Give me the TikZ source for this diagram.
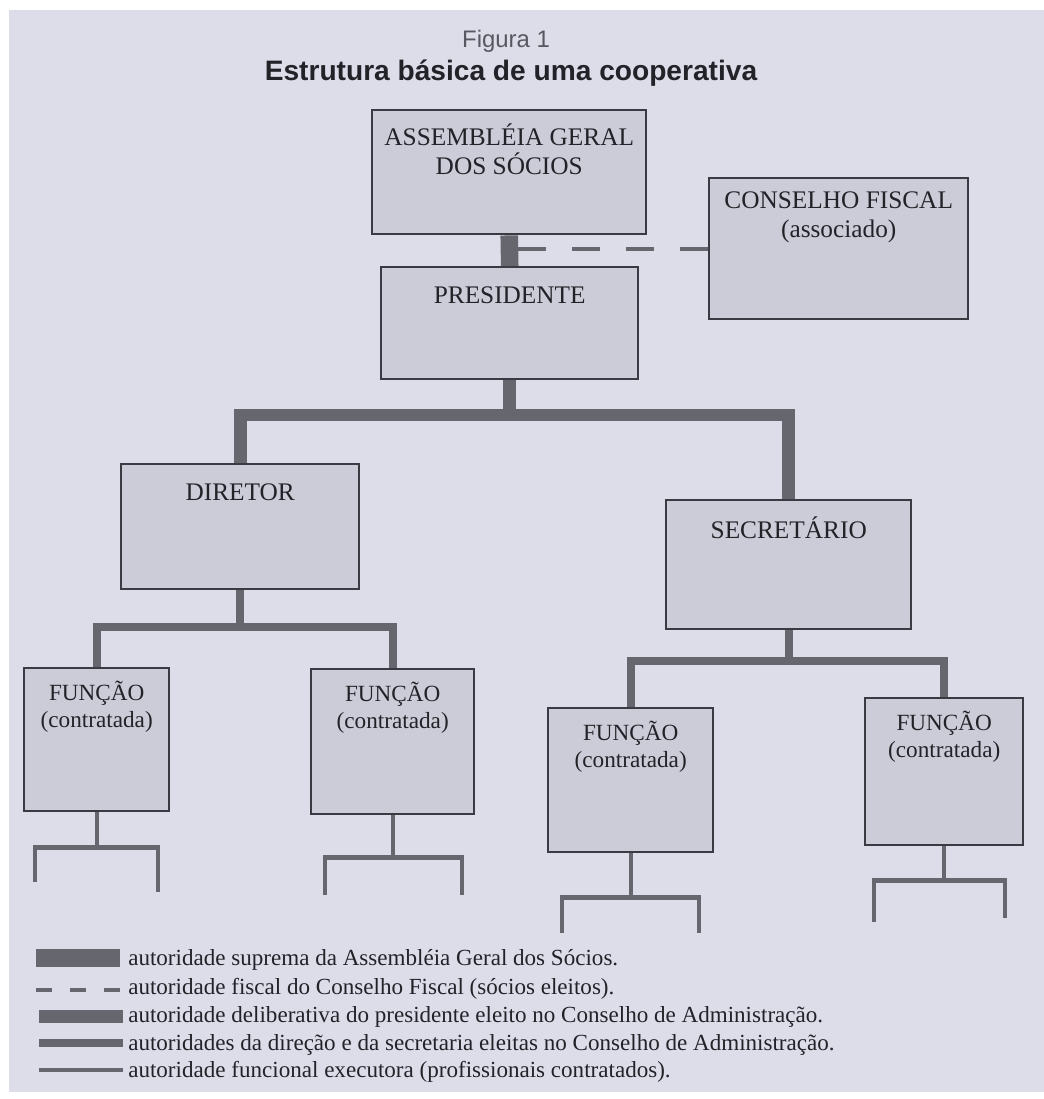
\documentclass[tikz,border=0pt]{standalone}
\usepackage{fontspec}
\setmainfont{Liberation Serif}
\newfontfamily\headfont{Liberation Sans}
\usetikzlibrary{positioning}
\definecolor{page_bg}{RGB}{221,221,234}
\definecolor{box_fill}{RGB}{204,204,216}
\definecolor{box_line}{RGB}{58,58,66}
\definecolor{link_grey}{RGB}{102,102,110}
\definecolor{ink}{RGB}{34,34,40}
\definecolor{fig_grey}{RGB}{88,88,96}

\tikzset{
  orgbox/.style={draw=box_line, fill=box_fill, line width=1.7pt, rectangle, anchor=north west, inner sep=0pt},
  boxlabel/.style={anchor=north, align=center, text=ink, inner sep=0pt, font=\fontsize{18}{20.5}\selectfont, execute at begin node={\rule{0pt}{0.9em}}},
  funclabel/.style={boxlabel, font=\fontsize{16.5}{19}\selectfont},
  suprema/.style={draw=link_grey, line width=12.5pt},
  fiscal/.style={draw=link_grey, line width=2.8pt, dash pattern=on 0.7cm off 0.65cm},
  deliberativa/.style={draw=link_grey, line width=9pt},
  direcao/.style={draw=link_grey, line width=5.5pt},
  funcional/.style={draw=link_grey, line width=3pt},
  legendtext/.style={anchor=base west, text=ink, inner sep=0pt, font=\fontsize{16.4}{19}\selectfont}
}

\begin{document}
\begin{tikzpicture}[x=0.025cm, y=-0.025cm]

    % page
    \useasboundingbox (0,0) rectangle (1044,1099);
    \fill[white] (0,0) rectangle (1044,1099);
    \fill[page_bg] (9,10) rectangle (1044,1092);

    % --- Begin Heading ---
    \node[anchor=base, text=fig_grey, font=\headfont\fontsize{17}{20}\selectfont] (figura_label) at (506,47) {Figura 1};
    \node[anchor=base, text=ink, font=\headfont\bfseries\fontsize{20}{24}\selectfont] (figura_title) at (511,80) {Estrutura básica de uma cooperativa};
		% --- End Heading ---

    % --- Begin Top Nodes ---
		\node[orgbox, minimum width=6.85cm, minimum height=3.1cm] (Assembleia) at (371,109) {};
		\node[boxlabel, below=0.36cm of Assembleia.north] (assembleia_title) {ASSEMBLÉIA GERAL\\DOS SÓCIOS};

		\node[orgbox, minimum width=6.475cm, minimum height=3.525cm] (Conselho) at (708,177) {};
		\node[boxlabel, below=0.36cm of Conselho.north] (conselho_title) {CONSELHO FISCAL\\(associado)};

		\node[orgbox, minimum width=6.425cm, minimum height=2.8cm] (Presidente) at (380,266) {};
		\node[boxlabel, below=0.36cm of Presidente.north] (presidente_title) {PRESIDENTE};
		% --- End Top Nodes ---

    % --- Begin Board Nodes ---
		\node[orgbox, minimum width=5.95cm, minimum height=3.125cm] (Diretor) at (120,463) {};
		\node[boxlabel, below=0.36cm of Diretor.north] (diretor_title) {DIRETOR};

		\node[orgbox, minimum width=6.125cm, minimum height=3.225cm] (Secretario) at (665,499) {};
		\node[boxlabel, below=0.4cm of Secretario.north] (secretario_title) {SECRETÁRIO};
		% --- End Board Nodes ---

    % --- Begin Funcao Nodes ---
		\node[orgbox, minimum width=3.625cm, minimum height=3.575cm] (FuncaoA) at (23,667) {};
		\node[funclabel, below=0.34cm of FuncaoA.north] (funcao_a_title) {FUNÇÃO\\(contratada)};

		\node[orgbox, minimum width=4.075cm, minimum height=3.625cm] (FuncaoB) at (310,668) {};
		\node[funclabel, below=0.34cm of FuncaoB.north] (funcao_b_title) {FUNÇÃO\\(contratada)};

		\node[orgbox, minimum width=4.125cm, minimum height=3.6cm] (FuncaoC) at (547,707) {};
		\node[funclabel, below=0.34cm of FuncaoC.north] (funcao_c_title) {FUNÇÃO\\(contratada)};

		\node[orgbox, minimum width=3.95cm, minimum height=3.675cm] (FuncaoD) at (864,697) {};
		\node[funclabel, below=0.34cm of FuncaoD.north] (funcao_d_title) {FUNÇÃO\\(contratada)};
		% --- End Funcao Nodes ---

    % Connect the nodes.
    \draw[fiscal] (Conselho.west) -- (Assembleia.south |- Conselho.west);
    \draw[suprema] (Assembleia.south) -- (Presidente.north);
    \draw[deliberativa] (Diretor.north) -- ++(0,-48) -| (Presidente.south);
    \draw[deliberativa] (Secretario.north) -- ++(0,-84) -| (Presidente.south);
    \draw[direcao] (FuncaoA.north) -- ++(0,-40) -| (Diretor.south);
    \draw[direcao] (FuncaoB.north) -- ++(0,-41) -| (Diretor.south);
    \draw[direcao] (FuncaoC.north) -- ++(0,-46) -| (Secretario.south);
    \draw[direcao] (FuncaoD.north) -- ++(0,-36) -| (Secretario.south);

    % Open branches below each function.
    \coordinate (funcao_a_left) at (35,882);
    \coordinate (funcao_a_right) at (158,892);
    \coordinate (funcao_b_left) at (325,895);
    \coordinate (funcao_b_right) at (462,895);
    \coordinate (funcao_c_left) at (562,933);
    \coordinate (funcao_c_right) at (699,933);
    \coordinate (funcao_d_left) at (874,922);
    \coordinate (funcao_d_right) at (1005,918);
    \draw[funcional] (FuncaoA.south) -- ++(0,35) coordinate (funcao_a_fork);
    \draw[funcional] (funcao_a_left) |- (funcao_a_fork) -| (funcao_a_right);
    \draw[funcional] (FuncaoB.south) -- ++(0,42) coordinate (funcao_b_fork);
    \draw[funcional] (funcao_b_left) |- (funcao_b_fork) -| (funcao_b_right);
    \draw[funcional] (FuncaoC.south) -- ++(0,44) coordinate (funcao_c_fork);
    \draw[funcional] (funcao_c_left) |- (funcao_c_fork) -| (funcao_c_right);
    \draw[funcional] (FuncaoD.south) -- ++(0,34) coordinate (funcao_d_fork);
    \draw[funcional] (funcao_d_left) |- (funcao_d_fork) -| (funcao_d_right);

    % --- Begin Legend ---
    \node[legendtext] (legend_suprema) at (128,965) {autoridade suprema da Assembléia Geral dos Sócios.};
    \node[legendtext] (legend_fiscal) at (128,994) {autoridade fiscal do Conselho Fiscal (sócios eleitos).};
    \node[legendtext] (legend_deliberativa) at (128,1022) {autoridade deliberativa do presidente eleito no Conselho de Administração.};
    \node[legendtext] (legend_direcao) at (128,1050) {autoridades da direção e da secretaria eleitas no Conselho de Administração.};
    \node[legendtext] (legend_funcional) at (128,1077) {autoridade funcional executora (profissionais contratados).};

    \draw[suprema] ([xshift=-0.2cm, yshift=0.18cm]legend_suprema.base west) -- ++(-84,0);
    \draw[fiscal, dash pattern=on 0.4cm off 0.45cm] ([xshift=-0.2cm, yshift=0.1cm]legend_fiscal.base west) -- ++(-84,0);
    \draw[deliberativa] ([xshift=-0.12cm, yshift=0.14cm]legend_deliberativa.base west) -- ++(-84,0);
    \draw[direcao] ([xshift=-0.12cm, yshift=0.17cm]legend_direcao.base west) -- ++(-84,0);
    \draw[funcional] ([xshift=-0.12cm, yshift=0.18cm]legend_funcional.base west) -- ++(-84,0);
		% --- End Legend ---

  \end{tikzpicture}
\end{document}
